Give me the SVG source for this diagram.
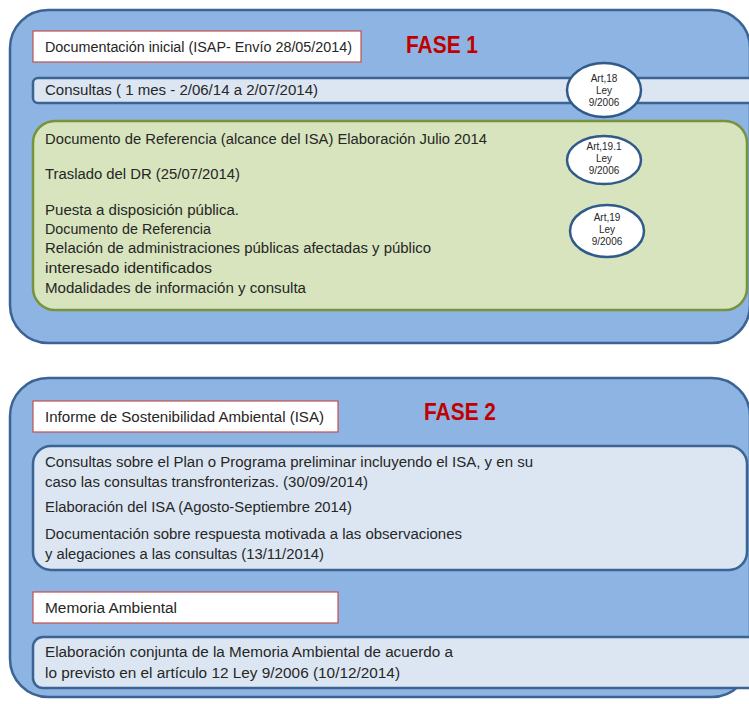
<svg xmlns="http://www.w3.org/2000/svg" width="749" height="704" viewBox="0 0 749 704">
<style>
.outer{fill:#8db4e2;stroke:#3b6494;stroke-width:2.5}
.light{fill:#dce6f2;stroke:#3b6494;stroke-width:2.5}
.green{fill:#d7e4bd;stroke:#77933c;stroke-width:2.5}
.title{fill:#ffffff;stroke:#c0504d;stroke-width:1.2}
.ell{fill:#ffffff;stroke:#2f5a8a;stroke-width:2.5}
.t{font-family:"Liberation Sans",Arial,sans-serif;font-size:14px;fill:#262626}
.s{font-family:"Liberation Sans",Arial,sans-serif;font-size:10px;fill:#262626;text-anchor:middle}
.fase{font-family:"Liberation Sans",Arial,sans-serif;font-size:23px;font-weight:bold;fill:#c00000}
</style>
<g id="fase1">
<rect class="outer" x="10" y="10" width="740" height="333" rx="38"/>
</g>
<g id="doc-inicial">
<rect class="title" x="33" y="31" width="328" height="31"/>
<text class="t" x="45" y="52" textLength="307" lengthAdjust="spacingAndGlyphs">Documentación inicial (ISAP- Envío 28/05/2014)</text>
</g>
<g id="fase1-label">
<text class="fase" x="406" y="53" textLength="72" lengthAdjust="spacingAndGlyphs">FASE 1</text>
</g>
<g id="consultas">
<rect class="light" x="33" y="78" width="740" height="25" rx="5"/>
<text class="t" x="45" y="95" textLength="273" lengthAdjust="spacingAndGlyphs">Consultas ( 1 mes - 2/06/14 a 2/07/2014)</text>
</g>
<g id="art18">
<ellipse class="ell" cx="604" cy="90" rx="37" ry="27"/>
<text class="s" x="604" y="82">Art,18</text>
<text class="s" x="604" y="94">Ley</text>
<text class="s" x="604" y="106">9/2006</text>
</g>
<g id="doc-referencia">
<rect class="green" x="33" y="121" width="714" height="189" rx="22"/>
<text class="t" x="45" y="144" textLength="442" lengthAdjust="spacingAndGlyphs">Documento de Referencia (alcance del ISA) Elaboración Julio 2014</text>
<text class="t" x="45" y="179" textLength="195" lengthAdjust="spacingAndGlyphs">Traslado del DR (25/07/2014)</text>
<text class="t" x="45" y="215" textLength="194" lengthAdjust="spacingAndGlyphs">Puesta a disposición pública.</text>
<text class="t" x="45" y="234" textLength="166" lengthAdjust="spacingAndGlyphs">Documento de Referencia</text>
<text class="t" x="45" y="253" textLength="386" lengthAdjust="spacingAndGlyphs">Relación de administraciones públicas afectadas y público</text>
<text class="t" x="45" y="273" textLength="167" lengthAdjust="spacingAndGlyphs">interesado identificados</text>
<text class="t" x="45" y="293" textLength="261" lengthAdjust="spacingAndGlyphs">Modalidades de información y consulta</text>
</g>
<g id="art191">
<ellipse class="ell" cx="604" cy="160" rx="37" ry="24"/>
<text class="s" x="604" y="150">Art,19.1</text>
<text class="s" x="604" y="162">Ley</text>
<text class="s" x="604" y="174">9/2006</text>
</g>
<g id="art19">
<ellipse class="ell" cx="607" cy="231" rx="37" ry="26"/>
<text class="s" x="607" y="221">Art,19</text>
<text class="s" x="607" y="233">Ley</text>
<text class="s" x="607" y="245">9/2006</text>
</g>
<g id="fase2">
<rect class="outer" x="10" y="378" width="740" height="319" rx="38"/>
</g>
<g id="isa">
<rect class="title" x="33" y="401" width="305" height="31"/>
<text class="t" x="45" y="422" textLength="279" lengthAdjust="spacingAndGlyphs">Informe de Sostenibilidad Ambiental (ISA)</text>
</g>
<g id="fase2-label">
<text class="fase" x="424" y="420" textLength="72" lengthAdjust="spacingAndGlyphs">FASE 2</text>
</g>
<g id="consultas-isa">
<rect class="light" x="33" y="446" width="714" height="124" rx="18"/>
<text class="t" x="45" y="467" textLength="488" lengthAdjust="spacingAndGlyphs">Consultas sobre el Plan o Programa preliminar incluyendo el ISA, y en su</text>
<text class="t" x="45" y="487" textLength="323" lengthAdjust="spacingAndGlyphs">caso las consultas transfronterizas. (30/09/2014)</text>
<text class="t" x="45" y="512" textLength="307" lengthAdjust="spacingAndGlyphs">Elaboración del ISA (Agosto-Septiembre 2014)</text>
<text class="t" x="45" y="539" textLength="417" lengthAdjust="spacingAndGlyphs">Documentación sobre respuesta motivada a las observaciones</text>
<text class="t" x="45" y="559" textLength="279" lengthAdjust="spacingAndGlyphs">y alegaciones a las consultas (13/11/2014)</text>
</g>
<g id="memoria">
<rect class="title" x="33" y="592" width="305" height="31"/>
<text class="t" x="45" y="613" textLength="132" lengthAdjust="spacingAndGlyphs">Memoria Ambiental</text>
</g>
<g id="elaboracion-memoria">
<rect class="light" x="33" y="637" width="740" height="51" rx="10"/>
<text class="t" x="45" y="657" textLength="408" lengthAdjust="spacingAndGlyphs">Elaboración conjunta de la Memoria Ambiental de acuerdo a</text>
<text class="t" x="45" y="678" textLength="355" lengthAdjust="spacingAndGlyphs">lo previsto en el artículo 12 Ley 9/2006 (10/12/2014)</text>
</g>
<g id="connectors"></g>
</svg>
